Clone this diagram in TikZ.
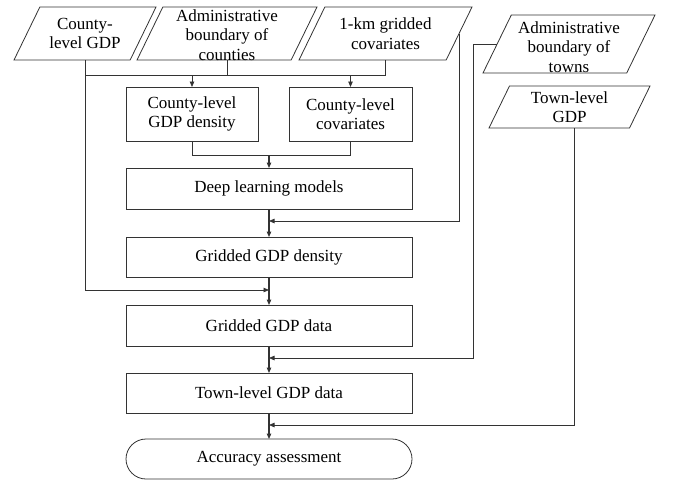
\documentclass[tikz,border=0pt]{standalone}
\usepackage{fontspec}
\setmainfont{Liberation Serif}
\usetikzlibrary{shapes.geometric,shapes.misc,arrows.meta}
\begin{document}
\begin{tikzpicture}[x=1pt,y=-1pt,
  line/.style={draw=black!80, line width=0.8pt},
  arr/.style={line, -{Triangle[length=5.5pt,width=4.5pt]}},
  main/.style={arr, line width=1.1pt},
  para/.style={trapezium, trapezium left angle=64, trapezium right angle=116,
    trapezium stretches body, draw=black!80, line width=0.8pt,
    inner xsep=0pt, inner ysep=#1, outer sep=0pt},
  txt/.style={font=\fontsize{17}{19.5}\selectfont, align=center, inner sep=0pt},
  box/.style={rectangle, draw=black!80, line width=0.8pt, inner sep=0pt, outer sep=0pt,
    minimum width=286pt, minimum height=41pt, font=\fontsize{17}{19.5}\selectfont, align=center},
  sbox/.style={box, minimum height=54pt},
]
\useasboundingbox (0,0) rectangle (679,480);
% input parallelograms
\node[para=26.5pt, minimum width=142pt] (p1) at (85,33.5) {};
\node[para=26.5pt, minimum width=180pt] (p2) at (227,33.5) {};
\node[para=26.5pt, minimum width=173pt] (p3) at (385.5,33.5) {};
\node[para=29pt, minimum width=172pt] (p4) at (569,44) {};
\node[para=21pt, minimum width=161pt] (p5) at (569.5,107) {};
\node[txt] (p1t) at (p1.center) {County-\\level GDP};
\node[txt] (p2t) at (227,35) {Administrative\\boundary of\\counties};
\node[txt] (p3t) at (p3.center) {1-km gridded\\covariates};
\node[txt] (p4t) at (569,47) {Administrative\\boundary of\\towns};
\node[txt] (p5t) at (p5.center) {Town-level\\GDP};
% process boxes
\node[sbox, minimum width=132pt] (b1) at (192,114) {County-level\\GDP density};
\node[sbox, minimum width=123pt] (b2) at (350.5,114) {County-level\\covariates};
\node[box] (dl) at (269,188.5) {Deep learning models};
\node[box, minimum height=40pt] (gd) at (269,257) {Gridded GDP density};
\node[box] (gdata) at (269,325.5) {Gridded GDP data};
\node[box, minimum height=40pt] (town) at (269,393) {Town-level GDP data};
\node[box, rounded rectangle, minimum height=40pt] (acc) at (269,459) {Accuracy assessment};
% bus levels and rails
\coordinate (busA) at (0,75);
\coordinate (busB) at (0,155);
\coordinate (inDL) at (0,221);
\coordinate (inGD) at (0,290);
\coordinate (inTD) at (0,358);
\coordinate (inAC) at (0,425);
\coordinate (railB) at (473,0);
\coordinate (railC) at (574,0);
% connectors
\draw[line] (p2.center |- p2.bottom side) -- (p2.center |- busA);
\draw[line] (p3.center |- p3.bottom side) -- (p3.center |- busA);
\draw[line] (p1.center |- busA) -- (p3.center |- busA);
\draw[arr] (b1.north |- busA) -- (b1.north);
\draw[arr] (b2.north |- busA) -- (b2.north);
\draw[line] (b1.south) -- (b1.south |- busB) -- (b2.south |- busB) -- (b2.south);
\draw[main] (dl.north |- busB) -- (dl.north);
\draw[main] (dl.south) -- (gd.north);
\draw[arr] (p3.right side) -- (p3.right side |- inDL) -- (dl.south |- inDL);
\draw[main] (gd.south) -- (gdata.north);
\draw[arr] (p1.center |- p1.bottom side) -- (p1.center |- inGD) -- (gdata.north |- inGD);
\draw[main] (gdata.south) -- (town.north);
\draw[arr] (p4.left side) -- (railB |- p4.left side) -- (railB |- inTD) -- (town.north |- inTD);
\draw[main] (town.south) -- (acc.north);
\draw[arr] (railC |- p5.bottom side) -- (railC |- inAC) -- (acc.north |- inAC);
\end{tikzpicture}
\end{document}
